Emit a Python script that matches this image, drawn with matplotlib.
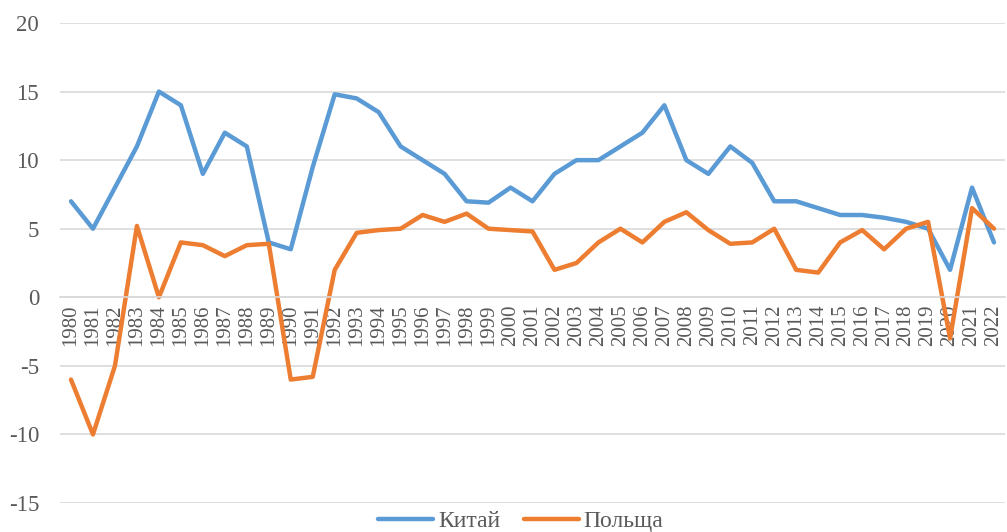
import matplotlib.pyplot as plt

# Data
years = list(range(1980, 2023))
china = [7, 5, 8, 11, 15, 14, 9, 12, 11, 4, 3.5, 9.5, 14.8, 14.5, 13.5, 11, 10, 9, 7, 6.9,
         8, 7, 9, 10, 10, 11, 12, 14, 10, 9, 11, 9.8, 7, 7, 6.5, 6, 6, 5.8, 5.5, 5, 2, 8, 4]
poland = [-6, -10, -5, 5.2, 0, 4, 3.8, 3, 3.8, 3.9, -6, -5.8, 2, 4.7, 4.9, 5, 6, 5.5, 6.1, 5,
          4.9, 4.8, 2, 2.5, 4, 5, 4, 5.5, 6.2, 4.9, 3.9, 4, 5, 2, 1.8, 4, 4.9, 3.5, 5, 5.5,
          -3, 6.5, 5]
yticks = [-15, -10, -5, 0, 5, 10, 15, 20]

plt.rcParams['font.family'] = ['Liberation Serif', 'DejaVu Serif']

fig = plt.figure(figsize=(10.07, 5.32), dpi=100)
ax = fig.add_axes([60 / 1007, 1 - 503 / 532, 945 / 1007, 480 / 532])

x = list(range(len(years)))
ax.plot(x, china, color='#5B9BD5', lw=3.2, solid_joinstyle='round', solid_capstyle='round', label='Китай')
ax.plot(x, poland, color='#ED7D31', lw=3.2, solid_joinstyle='round', solid_capstyle='round', label='Польща')

ax.set_xlim(-0.5, len(years) - 0.5)
ax.set_ylim(-15, 20)
ax.set_yticks(yticks)
ax.set_yticklabels([str(t) for t in yticks])
ax.grid(axis='y', color='#D9D9D9', lw=1.2)
ax.set_axisbelow(True)
for s in ['top', 'right', 'left']:
    ax.spines[s].set_visible(False)
ax.spines['bottom'].set_position(('data', 0))
ax.spines['bottom'].set_color('#D9D9D9')
ax.spines['bottom'].set_linewidth(1.2)

ax.set_xticks(x)
ax.set_xticklabels([str(y) for y in years], rotation=90)
ax.tick_params(axis='x', length=0, pad=5, labelsize=15, labelcolor='#595959')
ax.tick_params(axis='y', length=0, pad=15, labelsize=16.5, labelcolor='#595959')

fig.legend(loc='center', ncol=2, frameon=False, fontsize=17, labelcolor='#595959',
           handlelength=2.35, handletextpad=0.2, columnspacing=1.0,
           bbox_to_anchor=(0.517, 1 - 521 / 532), borderpad=0)

fig.savefig('out.png', dpi=100)
